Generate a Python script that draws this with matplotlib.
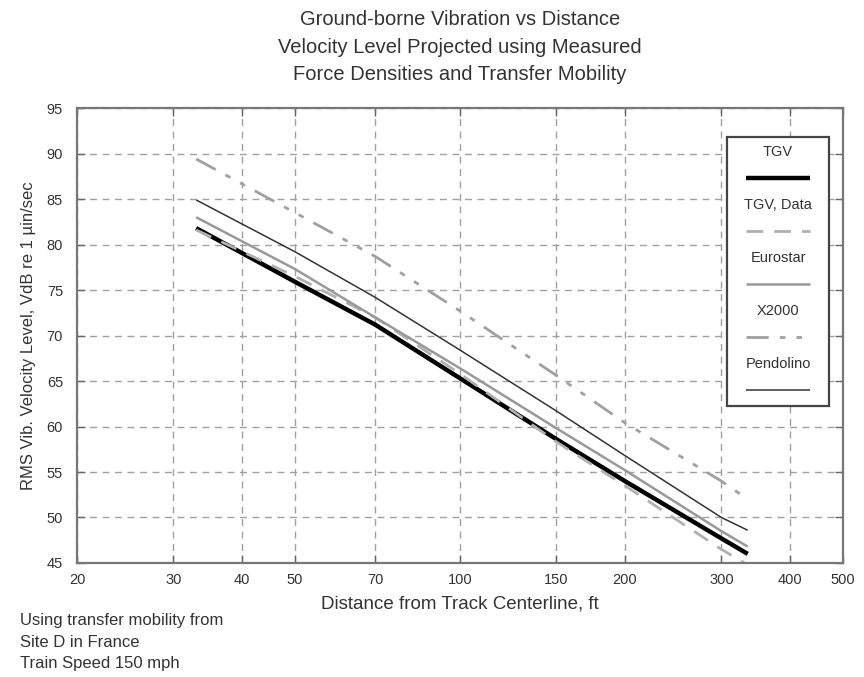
import matplotlib.pyplot as plt
from matplotlib.patches import Rectangle
from matplotlib.lines import Line2D

plt.rcParams['font.family'] = ['Liberation Sans', 'DejaVu Sans']

# distances (ft) and projected levels (VdB)
dist = [33, 50, 70, 100, 150, 200, 300, 335]
tgv = [81.8, 75.9, 71.2, 65.3, 58.6, 54.0, 47.7, 46.0]
tgv_data = [81.6, 76.5, 72.0, 65.8, 58.3, 53.5, 46.5, 44.8]
eurostar = [83.0, 77.3, 72.0, 66.4, 59.8, 55.2, 48.5, 46.8]
x2000 = [89.4, 83.5, 78.7, 72.7, 65.6, 60.4, 54.0, 52.0]
pendolino = [84.9, 79.2, 74.2, 68.4, 61.7, 56.8, 50.0, 48.6]

xticks = [20, 30, 40, 50, 70, 100, 150, 200, 300, 400, 500]
yticks = list(range(45, 96, 5))

txt = '#333333'
fig = plt.figure(figsize=(8.64, 6.77), dpi=100)
ax = fig.add_axes([0.0891, 0.1684, 0.8866, 0.672])

styles = [
    ('TGV', tgv, dict(color='black', lw=3.2)),
    ('TGV, Data', tgv_data, dict(color='#b0b0b0', lw=2.0, dashes=(6, 4))),
    ('Eurostar', eurostar, dict(color='#999999', lw=1.8)),
    ('X2000', x2000, dict(color='#a0a0a0', lw=2.0, dashes=(8, 4, 2, 4, 2, 4))),
    ('Pendolino', pendolino, dict(color='#333333', lw=1.1)),
]
for name, vals, st in styles:
    ax.plot(dist, vals, solid_capstyle='butt', **st)

ax.set_xscale('log')
ax.set_xlim(20, 500)
ax.set_ylim(45, 95)
ax.set_xticks(xticks)
ax.set_xticklabels([str(t) for t in xticks])
ax.minorticks_off()
ax.set_yticks(yticks)
ax.tick_params(direction='in', top=True, right=True, length=6, width=1,
               colors='#666666', labelcolor=txt, labelsize=10.5)
ax.tick_params(axis='x', pad=7)
ax.tick_params(axis='y', pad=10)
ax.grid(True, color='#a0a0a0', ls=(0, (5, 4)), lw=1)
for s in ax.spines.values():
    s.set_color('#777777')
    s.set_linewidth(1.6)

ax.set_xlabel('Distance from Track Centerline, ft', fontsize=13.5, color=txt, labelpad=6)
ax.set_ylabel('RMS Vib. Velocity Level, VdB re 1 µin/sec', fontsize=12, color=txt, labelpad=8)
fig.text(0.532, 0.985, 'Ground-borne Vibration vs Distance\n'
         'Velocity Level Projected using Measured\n'
         'Force Densities and Transfer Mobility',
         ha='center', va='top', fontsize=14.5, color=txt, linespacing=1.56)
fig.text(0.023, 0.094, 'Using transfer mobility from\nSite D in France\nTrain Speed 150 mph',
         ha='left', va='top', fontsize=12, color=txt, linespacing=1.52)

# legend box drawn by hand: label above the line sample
lx0, lx1, ly_top, ly_bot = 0.8486, 0.9817, 0.936, 0.345
ax.add_patch(Rectangle((lx0, ly_bot), lx1 - lx0, ly_top - ly_bot, transform=ax.transAxes,
                       facecolor='white', edgecolor='#444444', lw=1.6, zorder=5))
step = (ly_top - ly_bot) / 5.07
for i, (name, vals, st) in enumerate(styles):
    ty = ly_top - 0.033 - i * step
    ax.text((lx0 + lx1) / 2, ty, name, transform=ax.transAxes, ha='center', va='center',
            fontsize=10.5, color=txt, zorder=6)
    ax.add_line(Line2D([0.873, 0.957], [ty - 0.057, ty - 0.057], transform=ax.transAxes,
                       zorder=6, solid_capstyle='butt', **st))

fig.savefig('out.png', dpi=100)
